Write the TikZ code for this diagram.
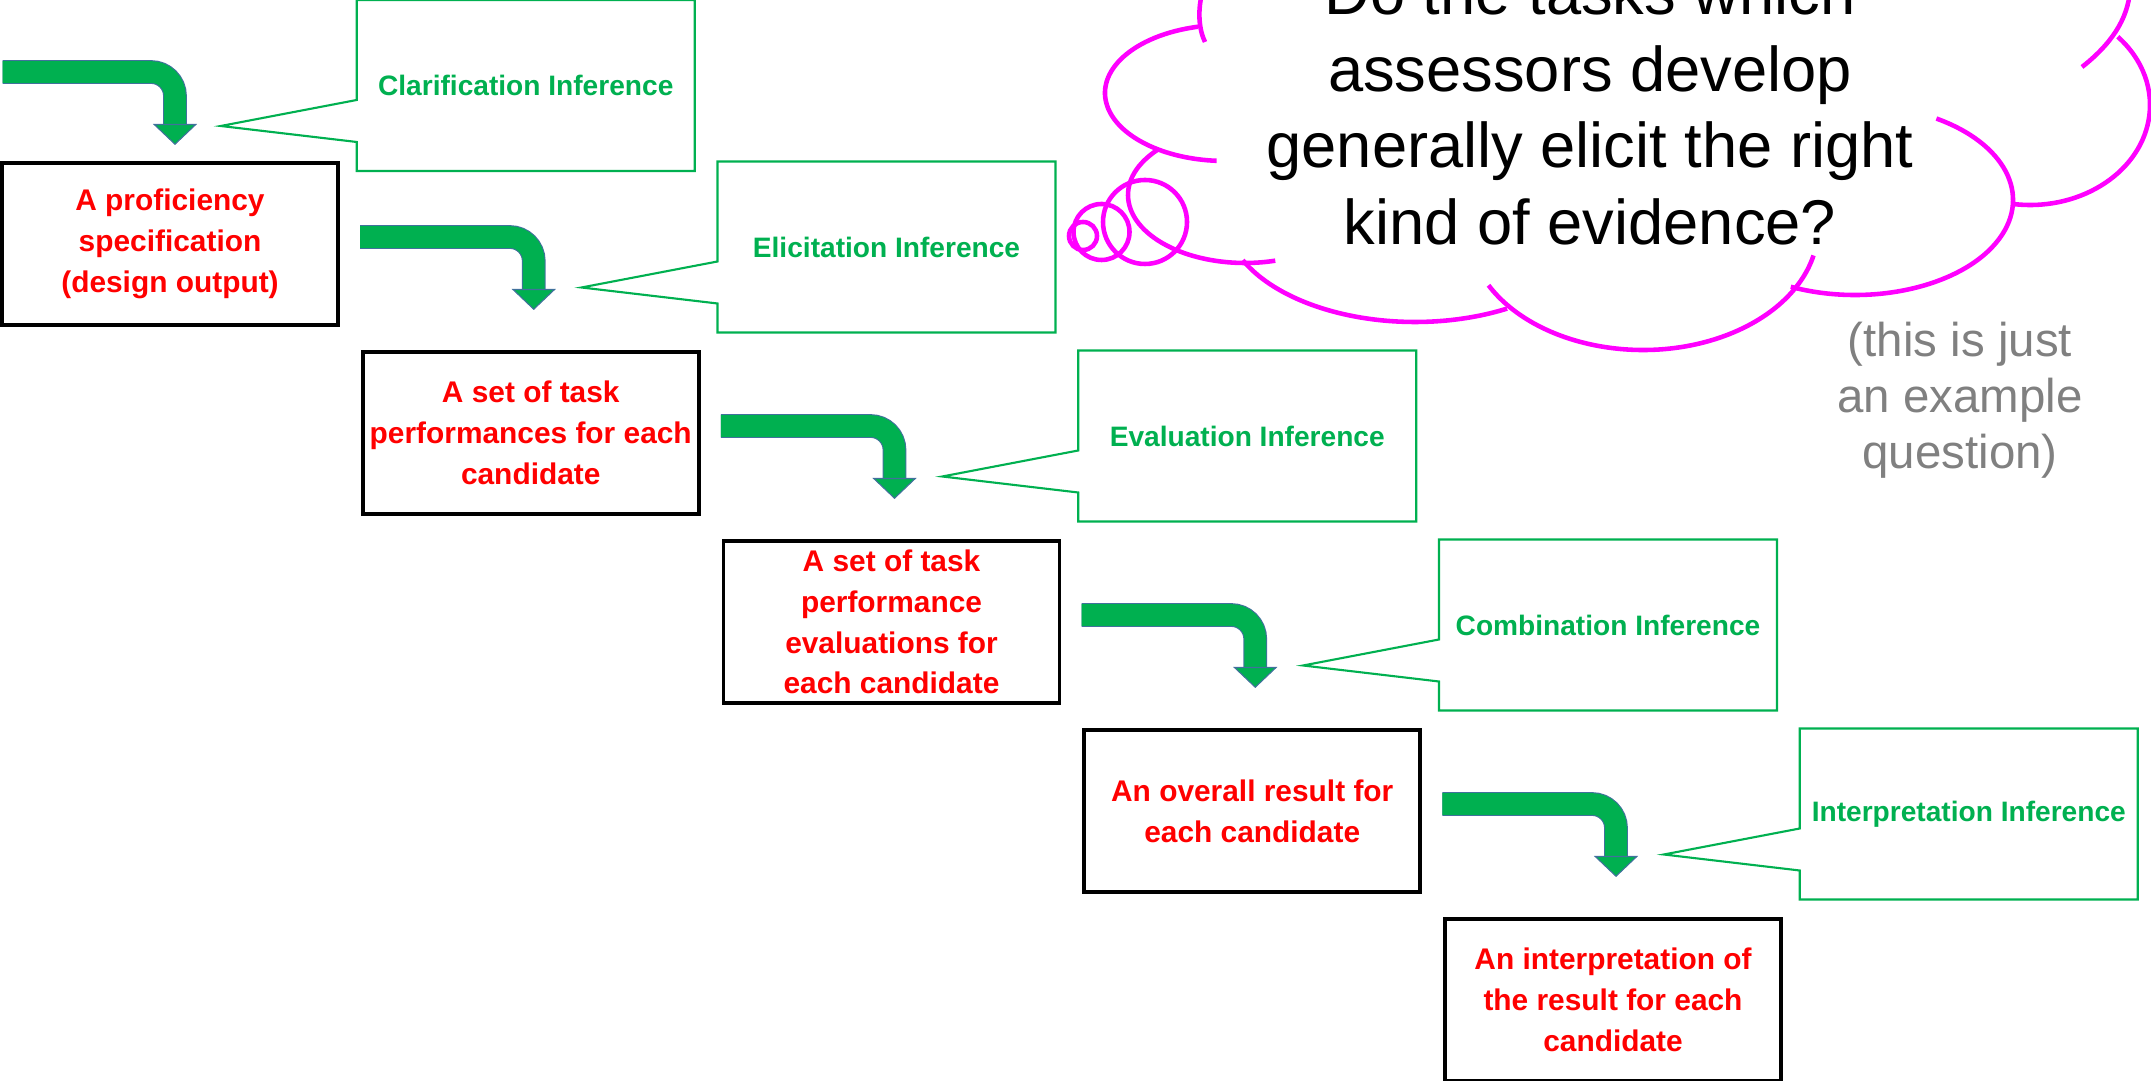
\documentclass[tikz,border=0pt]{standalone}
\usepackage{fontspec}
\setmainfont{Liberation Sans}
\usepackage{tikz}
\usetikzlibrary{positioning}
\usetikzlibrary{calc}
\usetikzlibrary{arrows.meta}
\definecolor{inferencegreen}{HTML}{00B050}
\definecolor{arrowedge}{HTML}{41719C}
\definecolor{stagered}{HTML}{FF0000}
\definecolor{cloudpink}{HTML}{FF00FF}
\definecolor{asidegray}{HTML}{808080}
\tikzstyle{stage} = [rectangle, minimum width=3.36cm, minimum height=1.62cm, inner sep=0pt, outer sep=0pt, text centered, draw=black, line width=1.1pt, text=stagered, font=\fontsize{8.5}{11.6}\selectfont\bfseries]
\tikzstyle{inference} = [rectangle, minimum width=3.38cm, minimum height=1.71cm, inner sep=0pt, outer sep=0pt, text centered, text=inferencegreen, font=\fontsize{8}{9.6}\selectfont\bfseries]
\tikzstyle{callout} = [draw=inferencegreen, line width=0.6pt, line join=miter]
\tikzstyle{arrow} = [line width=6.14pt, draw=inferencegreen, rounded corners=0.24cm, -{Triangle[width=0.44cm, length=0.21cm, line width=0.3pt, color=arrowedge, fill=inferencegreen]}, preaction={draw=arrowedge, line width=6.74pt, -, shorten >=0.19cm}]
\tikzstyle{cloudline} = [draw=cloudpink, line width=1.3pt]
\tikzstyle{question} = [align=center, font=\fontsize{18}{21.8}\selectfont]
\tikzstyle{aside} = [align=center, text=asidegray, font=\fontsize{13.5}{15.9}\selectfont]

\begin{document}
\begin{tikzpicture}[node distance=3.6075cm]
        \useasboundingbox (0,0) rectangle (21.51,-10.81);

        % the chain of outputs
        \node (spec) [stage, align=center] at (1.70,-2.44) {A proficiency\\ specification\\ (design output)};
        \node (performances) [stage, right of=spec, yshift=-1.89cm, align=center] {A set of task\\ performances for each\\ candidate};
        \node (evaluations) [stage, right of=performances, yshift=-1.89cm, align=center] {A set of task\\ performance\\ evaluations for\\ each candidate};
        \node (overall) [stage, right of=evaluations, yshift=-1.89cm, align=center] {An overall result for\\ each candidate};
        \node (interpretation) [stage, right of=overall, yshift=-1.89cm, align=center] {An interpretation of\\ the result for each\\ candidate};

        % inference callouts
        \node (clarification) [inference, right of=spec, xshift=-0.05cm, yshift=1.585cm] {Clarification Inference};
        \node (elicitation) [inference, right of=performances, xshift=-0.05cm, yshift=1.86cm] {Elicitation Inference};
        \node (evaluation) [inference, right of=evaluations, xshift=-0.05cm, yshift=1.86cm] {Evaluation Inference};
        \node (combination) [inference, right of=overall, xshift=-0.05cm, yshift=1.86cm] {Combination Inference};
        \node (interpret) [inference, right of=interpretation, xshift=-0.05cm, yshift=1.86cm] {Interpretation Inference};

        \coordinate (clarificationtip) at ($(clarification.north west)+(-1.36,-1.26)$);
        \coordinate (elicitationtip) at ($(elicitation.north west)+(-1.36,-1.26)$);
        \coordinate (evaluationtip) at ($(evaluation.north west)+(-1.36,-1.26)$);
        \coordinate (combinationtip) at ($(combination.north west)+(-1.36,-1.26)$);
        \coordinate (interprettip) at ($(interpret.north west)+(-1.36,-1.26)$);

        \draw [callout] (clarification.north west) -| (clarification.south east) -- (clarification.south west) -- ++(0,0.29) -- (clarificationtip) -- ($(clarification.north west)+(0,-1.00)$) -- cycle;
        \draw [callout] (elicitation.north west) -| (elicitation.south east) -- (elicitation.south west) -- ++(0,0.29) -- (elicitationtip) -- ($(elicitation.north west)+(0,-1.00)$) -- cycle;
        \draw [callout] (evaluation.north west) -| (evaluation.south east) -- (evaluation.south west) -- ++(0,0.29) -- (evaluationtip) -- ($(evaluation.north west)+(0,-1.00)$) -- cycle;
        \draw [callout] (combination.north west) -| (combination.south east) -- (combination.south west) -- ++(0,0.29) -- (combinationtip) -- ($(combination.north west)+(0,-1.00)$) -- cycle;
        \draw [callout] (interpret.north west) -| (interpret.south east) -- (interpret.south west) -- ++(0,0.29) -- (interprettip) -- ($(interpret.north west)+(0,-1.00)$) -- cycle;

        % bent arrows
        \coordinate (entry) at (0.027,-0.72);
        \draw [arrow] (entry) -| ($(spec.north)+(0.05,0.18)$);
        \draw [arrow] ($(spec.east)+(0.22,0.07)$) -| ($(performances.north)+(0.03,0.42)$);
        \draw [arrow] ($(performances.east)+(0.22,0.07)$) -| ($(evaluations.north)+(0.03,0.42)$);
        \draw [arrow] ($(evaluations.east)+(0.22,0.07)$) -| ($(overall.north)+(0.03,0.42)$);
        \draw [arrow] ($(overall.east)+(0.22,0.07)$) -| ($(interpretation.north)+(0.03,0.42)$);

        % thought cloud, one arc per lobe
        \draw [cloudline] (12.03,0.10) .. controls (11.97,-0.10) and (11.99,-0.30) .. (12.05,-0.42);
        \draw [cloudline] ([shift={(12.25,-0.93)}]103:1.20cm and 0.68cm) arc[start angle=103, end angle=266, x radius=1.20cm, y radius=0.68cm];
        \draw [cloudline] ([shift={(12.45,-1.95)}]138:1.17cm and 0.68cm) arc[start angle=138, end angle=285, x radius=1.17cm, y radius=0.68cm];
        \draw [cloudline] ([shift={(14.15,-2.15)}]205:1.90cm and 1.07cm) arc[start angle=205, end angle=299, x radius=1.90cm, y radius=1.07cm];
        \draw [cloudline] ([shift={(16.43,-2.28)}]208:1.75cm and 1.22cm) arc[start angle=208, end angle=347, x radius=1.75cm, y radius=1.22cm];
        \draw [cloudline] ([shift={(18.55,-2.00)}]246:1.58cm and 0.95cm) arc[start angle=246, end angle=419, x radius=1.58cm, y radius=0.95cm];
        \draw [cloudline] ([shift={(20.30,-1.05)}]261:1.20cm and 1.00cm) arc[start angle=261, end angle=403, x radius=1.20cm, y radius=1.00cm];
        \draw [cloudline] (20.82,-0.67) .. controls (21.10,-0.45) and (21.28,-0.20) .. (21.30,0.10);
        \draw [cloudline] (11.45,-2.22) circle (0.42);
        \draw [cloudline] (11.015,-2.32) circle (0.28);
        \draw [cloudline] (10.83,-2.36) circle (0.14);

        \node (question) [question] at (15.90,-1.07) {Do the tasks which\\ assessors develop\\ generally elicit the right\\ kind of evidence?};
        \node (example) [aside] at (19.60,-4.00) {(this is just\\ an example\\ question)};
    \end{tikzpicture}
\end{document}
